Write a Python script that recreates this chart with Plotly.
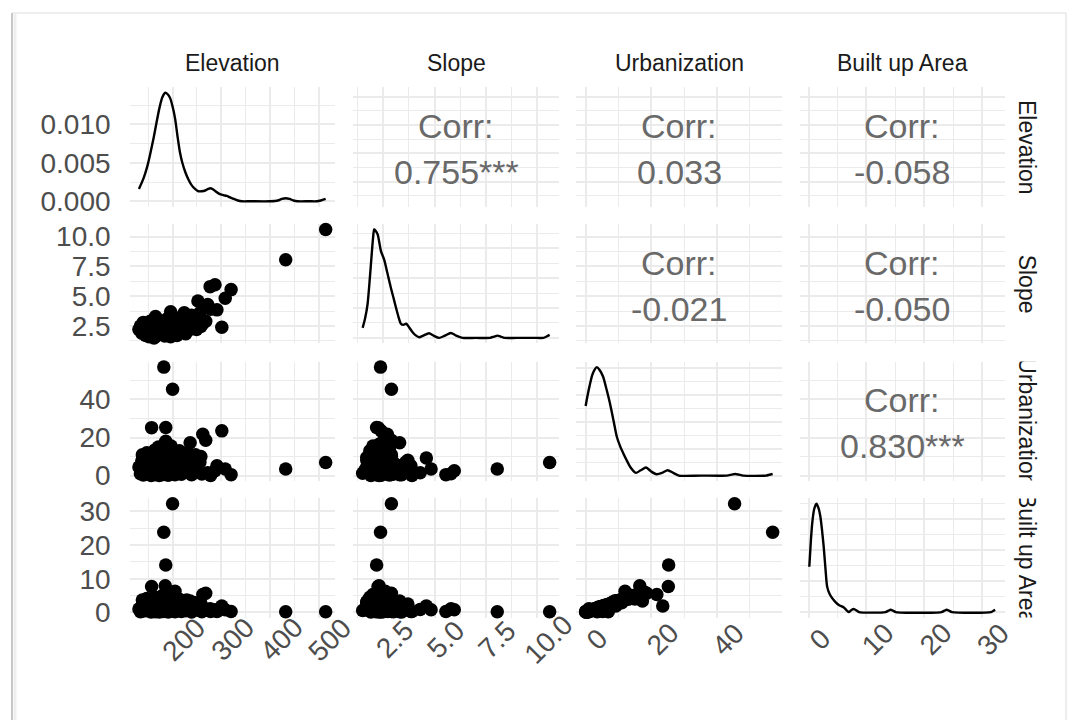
import plotly.graph_objects as go

W, H = 1078, 720

var_names = ["Elevation", "Slope", "Urbanization", "Built up Area"]

# Observations (one entry per site)
elevation = [514, 432, 200, 182, 186, 157, 185, 301, 262, 268,
             287, 277, 320, 252, 272, 308, 291, 278, 236, 205,
             196, 131, 134, 137, 140, 143, 145, 148, 150, 152,
             154, 156, 158, 160, 162, 164, 165, 167, 168, 170,
             171, 173, 174, 176, 177, 178, 180, 181, 183, 184,
             186, 187, 189, 190, 191, 193, 194, 196, 198, 199,
             201, 203, 205, 207, 209, 211, 214, 216, 218, 221,
             224, 227, 229, 232, 235, 239, 243, 247, 251, 256,
             260, 142, 146, 151, 155, 159, 163, 166, 169, 172,
             175, 179, 182, 185, 188, 192, 195, 197, 200, 202,
             206, 210, 213, 217, 220, 225, 230, 238, 245, 249,
             258, 138, 147]
slope = [10.6, 8.05, 2.9, 2.37, 2.18, 2.25, 2.3, 2.4, 2.7, 2.9,
         5.96, 5.8, 5.55, 4.6, 4.3, 4.83, 3.85, 3.9, 3.3, 2.6,
         3.7, 2.2, 2.5, 1.9, 2.8, 2.1, 1.7, 2.4, 2.0, 1.6,
         2.9, 2.3, 1.8, 2.6, 1.5, 2.0, 3.3, 2.2, 1.7, 2.45,
         2.5, 1.9, 2.1, 2.7, 2.2, 2.35, 1.8, 2.9, 2.05, 1.65,
         2.5, 2.2, 3.1, 1.75, 2.4, 2.0, 2.8, 1.6, 2.3, 3.4,
         1.9, 2.6, 2.15, 2.95, 1.7, 2.45, 2.6, 2.0, 2.7, 2.3,
         3.6, 1.85, 2.6, 3.0, 2.2, 3.4, 2.5, 2.35, 2.8, 3.6,
         3.0, 2.0, 2.6, 1.8, 2.2, 2.9, 2.4, 1.9, 2.15, 2.8,
         1.95, 2.55, 2.25, 1.85, 2.65, 2.2, 2.45, 2.0, 2.75, 2.35,
         1.8, 2.55, 2.1, 2.85, 1.95, 2.4, 2.15, 2.65, 2.9, 2.2,
         2.45, 2.35, 2.15]
urbanization = [6.9, 3.5, 45.4, 57.0, 25.3, 25.2, 16.5, 23.5, 21.7, 18.6,
                2.5, 1.0, 0.5, 9.2, 1.5, 3.5, 5.2, 0.0, 17.3, 12.0,
                8.0, 4.5, 1.0, 7.8, 0.3, 3.0, 9.5, 0.8, 5.5, 2.2,
                11.0, 0.1, 6.5, 3.8, 1.2, 13.5, 0.5, 8.5, 4.0, 2.0,
                15.0, 0.0, 10.0, 5.0, 14.5, 2.8, 7.0, 0.6, 12.5, 3.5,
                18.0, 1.5, 6.0, 9.0, 0.2, 4.2, 14.0, 2.5, 7.5, 1.0,
                11.5, 3.2, 0.4, 5.8, 8.2, 2.0, 13.0, 4.8, 0.7, 10.5,
                6.8, 1.8, 12.0, 3.0, 8.8, 0.5, 5.5, 11.0, 2.2, 7.0,
                0.8, 6.0, 2.5, 8.8, 4.5, 9.8, 6.2, 11.8, 3.0, 7.8,
                5.5, 10.8, 4.6, 13.0, 8.0, 10.2, 5.2, 15.5, 9.5, 6.5,
                3.8, 9.0, 6.0, 11.2, 7.2, 4.0, 9.6, 6.2, 8.4, 4.5,
                10.0, 11.0, 12.0]
built_up = [0.2, 0.2, 32.3, 23.8, 14.1, 7.7, 7.9, 1.9, 5.3, 5.7,
            0.8, 1.1, 0.3, 1.9, 0.9, 0.8, 0.3, 0.3, 3.4, 6.3,
            2.5, 1.0, 0.2, 2.0, 0.4, 1.2, 3.1, 0.5, 1.6, 0.9,
            3.6, 0.1, 2.2, 1.3, 0.6, 4.4, 0.2, 2.8, 1.5, 0.7,
            4.0, 0.1, 3.3, 1.8, 4.8, 1.0, 2.4, 0.3, 4.7, 1.4,
            6.0, 0.5, 2.0, 3.5, 0.1, 1.7, 5.0, 0.8, 2.6, 0.4,
            4.2, 1.1, 0.2, 2.1, 3.0, 0.6, 3.9, 1.6, 0.3, 3.2,
            2.2, 0.5, 3.7, 1.0, 2.7, 0.1, 1.5, 2.9, 0.7, 2.0,
            0.2, 2.0, 0.8, 2.9, 1.5, 3.4, 2.1, 4.0, 1.0, 2.7,
            1.9, 3.8, 1.6, 4.5, 2.9, 3.6, 1.9, 5.3, 3.4, 2.3,
            1.3, 3.1, 2.0, 3.5, 2.4, 1.3, 3.0, 1.9, 2.5, 1.2,
            2.8, 3.7, 4.1]

# Kernel density curves on the diagonal
elev_dens_x = [131, 140, 148, 155, 161, 167, 173, 179, 185, 190, 195, 200, 205, 210,
               215, 220, 226, 232, 239, 246, 253, 260, 267, 273, 277, 282, 288, 295,
               304, 311, 318, 326, 334, 342, 360, 400, 416, 424, 432, 440, 448, 456,
               480, 496, 504, 509, 514]
elev_dens_y = [0.0016, 0.0029, 0.0045, 0.0064, 0.0082, 0.0102, 0.0121, 0.0135, 0.0141,
               0.0139, 0.0134, 0.0123, 0.0108, 0.0085, 0.0064, 0.0050, 0.0038, 0.0029,
               0.0021, 0.0016, 0.0013, 0.0013, 0.0014, 0.0016, 0.0017, 0.0016, 0.0013,
               0.0010, 0.0008, 0.0007, 0.0005, 0.0003, 0.0001, 0.0000, 0.0000, 0.0000,
               0.0001, 0.0003, 0.0004, 0.0003, 0.0001, 0.0000, 0.0000, 0.0000, 0.0001,
               0.0002, 0.0003]
slope_dens_x = [1.50, 1.62, 1.74, 1.85, 1.94, 2.01, 2.06, 2.12, 2.23, 2.39, 2.55, 2.70,
                2.87, 3.00, 3.12, 3.25, 3.36, 3.48, 3.62, 3.75, 3.93, 4.10, 4.25, 4.45,
                4.73, 4.95, 5.22, 5.50, 5.79, 6.05, 6.36, 7.00, 7.70, 7.90, 8.06, 8.22,
                8.40, 9.00, 10.00, 10.30, 10.45, 10.60]
slope_dens_y = [0.067, 0.131, 0.227, 0.400, 0.560, 0.676, 0.727, 0.720, 0.694, 0.582,
                0.523, 0.436, 0.338, 0.269, 0.204, 0.138, 0.095, 0.087, 0.095, 0.073,
                0.038, 0.015, 0.004, 0.015, 0.031, 0.015, 0.000, 0.015, 0.033, 0.015,
                0.000, 0.000, 0.000, 0.009, 0.015, 0.009, 0.000, 0.000, 0.000, 0.000,
                0.009, 0.020]
urban_dens_x = [0.0, 0.6, 1.2, 2.0, 2.7, 3.4, 4.2, 5.3, 6.3, 7.4, 8.5, 9.5, 10.5, 11.6,
                12.6, 13.7, 15.3, 16.8, 18.4, 20.0, 21.6, 23.3, 25.0, 26.7, 28.4, 35.0,
                43.0, 44.5, 45.6, 46.7, 48.0, 55.0, 56.0, 57.0]
urban_dens_y = [0.052, 0.060, 0.067, 0.075, 0.079, 0.081, 0.079, 0.074, 0.065, 0.054,
                0.041, 0.029, 0.022, 0.016, 0.011, 0.006, 0.002, 0.004, 0.006, 0.003,
                0.001, 0.002, 0.004, 0.002, 0.000, 0.000, 0.000, 0.0007, 0.0012, 0.0007,
                0.000, 0.000, 0.0006, 0.0012]
built_dens_x = [0.1, 0.35, 0.6, 0.95, 1.34, 1.7, 2.03, 2.3, 2.6, 2.9, 3.19, 3.6, 4.06,
                4.6, 5.21, 6.08, 6.6, 6.95, 7.4, 7.8, 8.3, 8.7, 13.3, 13.8, 14.2, 14.6,
                15.1, 23.0, 23.5, 23.9, 24.3, 24.8, 31.6, 32.0, 32.3]
built_dens_y = [0.146, 0.223, 0.285, 0.332, 0.349, 0.335, 0.306, 0.265, 0.209, 0.140,
                0.082, 0.059, 0.045, 0.033, 0.023, 0.015, 0.005, 0.000, 0.007, 0.010,
                0.005, 0.000, 0.000, 0.0045, 0.0073, 0.0045, 0.000, 0.000, 0.0045,
                0.0073, 0.0045, 0.000, 0.000, 0.0045, 0.0073]

# Axis breaks
elev_ticks, elev_minor = [200, 300, 400, 500], [150, 250, 350, 450]
elev_labels = ["200", "300", "400", "500"]
slope_ticks, slope_minor = [2.5, 5.0, 7.5, 10.0], [1.25, 3.75, 6.25, 8.75]
slope_labels = ["2.5", "5.0", "7.5", "10.0"]
urban_ticks, urban_minor = [0, 20, 40], [10, 30, 50]
urban_labels = ["0", "20", "40"]
built_ticks, built_minor = [0, 10, 20, 30], [5, 15, 25]
built_labels = ["0", "10", "20", "30"]

elev_dens_ticks, elev_dens_minor = [0, 0.005, 0.010], [0.0025, 0.0075, 0.0125]
elev_dens_labels = ["0.000", "0.005", "0.010"]
slope_dens_ticks, slope_dens_minor = [0, 0.2, 0.4, 0.6], [0.1, 0.3, 0.5, 0.7]
urban_dens_ticks, urban_dens_minor = [0, 0.02, 0.04, 0.06, 0.08], [0.01, 0.03, 0.05, 0.07]
built_dens_ticks, built_dens_minor = [0, 0.1, 0.2, 0.3], [0.05, 0.15, 0.25, 0.35]

# Correlation labels for the upper triangle
corr_cells = [(0, 1), (0, 2), (0, 3), (1, 2), (1, 3), (2, 3)]
corr_values = ["0.755***", "0.033", "-0.058", "-0.021", "-0.050", "0.830***"]

values = [elevation, slope, urbanization, built_up]
dens_x = [elev_dens_x, slope_dens_x, urban_dens_x, built_dens_x]
dens_y = [elev_dens_y, slope_dens_y, urban_dens_y, built_dens_y]
var_ticks = [(elev_ticks, elev_minor, elev_labels), (slope_ticks, slope_minor, slope_labels),
             (urban_ticks, urban_minor, urban_labels), (built_ticks, built_minor, built_labels)]
dens_ticks = [(elev_dens_ticks, elev_dens_minor, elev_dens_labels),
              (slope_dens_ticks, slope_dens_minor, [str(v) for v in slope_dens_ticks]),
              (urban_dens_ticks, urban_dens_minor, [str(v) for v in urban_dens_ticks]),
              (built_dens_ticks, built_dens_minor, [str(v) for v in built_dens_ticks])]


def padded(v):
    lo, hi = min(v), max(v)
    d = hi - lo
    return [lo - 0.05 * d, hi + 0.05 * d]


# Panel placement in pixels
col_px = [(129.6, 335.0), (353.3, 559.0), (576.3, 782.0), (800.0, 1004.5)]
row_px = [(87.3, 206.7), (224.0, 343.3), (361.7, 481.0), (498.3, 617.5)]

GRID = "#EBEBEB"
FONT = "Liberation Sans, Arial, sans-serif"
TICKFONT = dict(family=FONT, size=28, color="#4D4D4D")

fig = go.Figure()
layout = dict(
    width=W, height=H, margin=dict(l=0, r=0, t=0, b=0, autoexpand=False),
    paper_bgcolor="white", plot_bgcolor="white", showlegend=False,
)
annotations = []


def axis_id(k):
    return ("x", "y") if k == 1 else (f"x{k}", f"y{k}")


for r in range(4):
    for c in range(4):
        k = r * 4 + c + 1
        xref, yref = axis_id(k)
        xname = "xaxis" if k == 1 else f"xaxis{k}"
        yname = "yaxis" if k == 1 else f"yaxis{k}"

        xt, xm, xl = var_ticks[c]
        if r == c:
            yt, ym, yl = dens_ticks[r]
            ymax = max(dens_y[r])
            yrange = [-0.05 * ymax, 1.05 * ymax]
        else:
            yt, ym, yl = var_ticks[r]
            yrange = padded(values[r])

        layout[xname] = dict(
            domain=[col_px[c][0] / W, col_px[c][1] / W], anchor=yref,
            range=padded(values[c]), tickmode="array", tickvals=xt, ticktext=xl,
            showticklabels=False, automargin=False,
            showgrid=True, gridcolor=GRID, gridwidth=1.7, zeroline=False,
            showline=False, ticks="",
            minor=dict(tickmode="array", tickvals=xm, showgrid=True,
                       gridcolor=GRID, gridwidth=1.2, ticks=""),
        )
        layout[yname] = dict(
            domain=[1 - row_px[r][1] / H, 1 - row_px[r][0] / H], anchor=xref,
            range=yrange, tickmode="array", tickvals=yt, ticktext=yl,
            showticklabels=(c == 0), tickfont=TICKFONT, ticklabelstandoff=18,
            automargin=False,
            showgrid=True, gridcolor=GRID, gridwidth=1.7, zeroline=False,
            showline=False, ticks="",
            minor=dict(tickmode="array", tickvals=ym, showgrid=True,
                       gridcolor=GRID, gridwidth=1.2, ticks=""),
        )

        if r > c:
            fig.add_trace(go.Scatter(
                x=values[c], y=values[r], mode="markers", xaxis=xref, yaxis=yref,
                marker=dict(color="black", size=13.5, line=dict(width=0)),
                hoverinfo="skip", cliponaxis=False,
            ))
        elif r == c:
            fig.add_trace(go.Scatter(
                x=dens_x[r], y=dens_y[r], mode="lines", xaxis=xref, yaxis=yref,
                line=dict(color="black", width=2.4, shape="spline", smoothing=0.7),
                hoverinfo="skip",
            ))
        else:
            fig.add_trace(go.Scatter(x=[], y=[], xaxis=xref, yaxis=yref, mode="markers"))

# Bottom-row x tick labels, rotated and centred just right of each break
for c in range(4):
    xref, _ = axis_id(12 + c + 1)
    xt, _, xl = var_ticks[c]
    for v, lab in zip(xt, xl):
        annotations.append(dict(
            text=lab, xref=xref, yref="paper", x=v, y=1 - 639 / H, xshift=11,
            textangle=-45, xanchor="center", yanchor="middle", showarrow=False,
            font=TICKFONT,
        ))

# Correlation text
for (r, c), val in zip(corr_cells, corr_values):
    k = r * 4 + c + 1
    xref, yref = axis_id(k)
    for txt, shift in (("Corr:", 21), (val, -25)):
        annotations.append(dict(
            text=txt, xref=f"{xref} domain", yref=f"{yref} domain", x=0.5, y=0.5,
            yshift=shift, xanchor="center", yanchor="middle", showarrow=False,
            font=dict(family=FONT, size=34, color="#696969"),
        ))

# Strip labels: top (columns) and right (rows)
STRIP = dict(family=FONT, size=23, color="#1A1A1A")
for c, name in enumerate(var_names):
    annotations.append(dict(
        text=name, xref="paper", yref="paper",
        x=(col_px[c][0] + col_px[c][1]) / 2 / W, y=1 - 63 / H,
        xanchor="center", yanchor="middle", showarrow=False, font=STRIP,
    ))
for r, name in enumerate(var_names):
    annotations.append(dict(
        text=name, xref="paper", yref="paper", textangle=90,
        x=1027 / W, y=1 - (row_px[r][0] + row_px[r][1]) / 2 / H,
        xanchor="center", yanchor="middle", showarrow=False, font=STRIP,
    ))
# Strip boxes clip the long row labels to the panel height
gaps = [(row_px[0][1], row_px[1][0]), (row_px[1][1], row_px[2][0]),
        (row_px[2][1], row_px[3][0]), (row_px[3][1], row_px[3][1] + 22)]
for top, bottom in gaps:
    annotations.append(dict(
        text=" ", xref="paper", yref="paper",
        x=1029 / W, y=1 - (top + bottom) / 2 / H, width=34, height=bottom - top,
        bgcolor="white", borderpad=0, xanchor="center", yanchor="middle",
        showarrow=False,
    ))

layout["annotations"] = annotations

# Page frame
layout["shapes"] = [
    dict(type="line", xref="paper", yref="paper", x0=12 / W, x1=1066 / W,
         y0=1 - 13 / H, y1=1 - 13 / H, line=dict(color="#DDDDDD", width=1.2)),
    dict(type="line", xref="paper", yref="paper", x0=15 / W, x1=15 / W,
         y0=0, y1=1 - 13 / H, line=dict(color="#EFEFEF", width=3)),
    dict(type="line", xref="paper", yref="paper", x0=12 / W, x1=12 / W,
         y0=0, y1=1 - 13 / H, line=dict(color="#C8C8C8", width=2)),
    dict(type="line", xref="paper", yref="paper", x0=1066 / W, x1=1066 / W,
         y0=0, y1=1 - 13 / H, line=dict(color="#E2E2E2", width=1.2)),
]

fig.update_layout(**layout)
fig.write_html("out.html")
